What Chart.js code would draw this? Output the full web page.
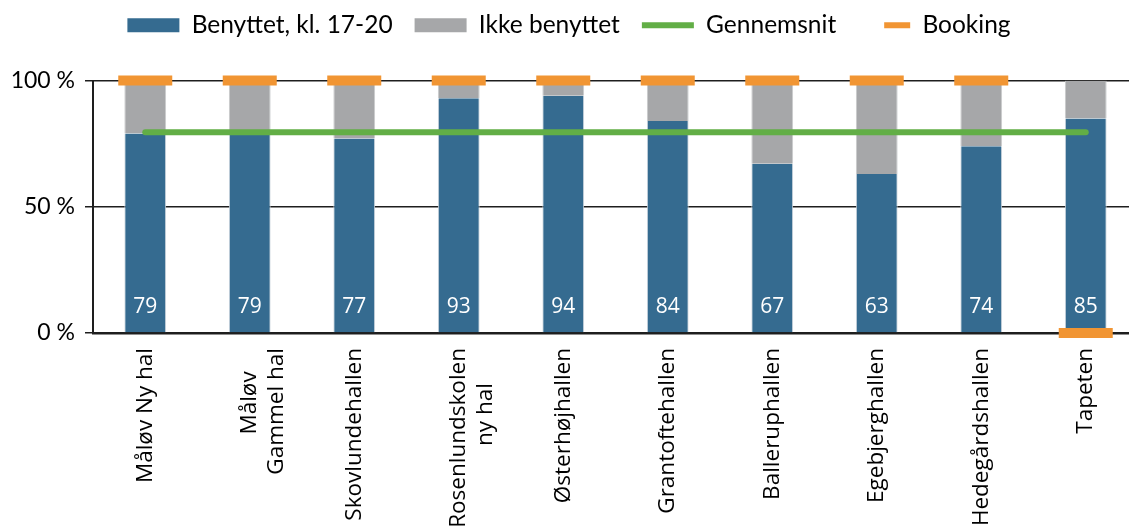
<!DOCTYPE html>
<html>
<head>
<meta charset="utf-8">
<script src="https://cdn.jsdelivr.net/npm/chart.js@4/dist/chart.umd.min.js"></script>
<style>
  html, body { margin: 0; padding: 0; background: #fff; overflow: hidden; }
  #chart { display: block; }
</style>
</head>
<body>
<canvas id="chart" width="1140" height="530"></canvas>
<script>
// Data
const halls = [
  'Måløv Ny hal', ['Måløv    ', 'Gammel hal'], 'Skovlundehallen', ['Rosenlundskolen', 'ny hal      '],
  'Østerhøjhallen', 'Grantoftehallen', 'Balleruphallen', 'Egebjerghallen', 'Hedegårdshallen', 'Tapeten'
];
const benyttet      = [79, 79, 77, 93, 94, 84, 67, 63, 74, 85];
const ikkeBenyttet  = [21, 21, 23, 7, 6, 16, 33, 37, 26, 15];
const gennemsnit    = [79.5, 79.5, 79.5, 79.5, 79.5, 79.5, 79.5, 79.5, 79.5, 79.5];
const booking       = [100, 100, 100, 100, 100, 100, 100, 100, 100, 0];
const yTicks        = [0, 50, 100];

const COLOR = {
  blue:   '#356b90',
  gray:   '#a6a7a9',
  green:  '#62ae46',
  orange: '#f19533',
  edge:   '#cdd6de',
  axis:   '#1e1e1e',
};

// værdier i bunden af søjlerne
const barValues = {
  id: 'barValues',
  afterDatasetsDraw(chart) {
    const meta = chart.getDatasetMeta(0);
    const ctx = chart.ctx;
    ctx.save();
    ctx.fillStyle = '#fff';
    ctx.font = '21px "Open Sans"';
    ctx.textAlign = 'center';
    ctx.textBaseline = 'middle';
    meta.data.forEach((bar, i) => {
      ctx.fillText(String(benyttet[i]), bar.x, bar.base - 25);
    });
    ctx.restore();
  }
};

new Chart(document.getElementById('chart').getContext('2d'), {
  type: 'bar',
  data: {
    labels: halls,
    datasets: [
      {
        label: 'Benyttet, kl. 17-20',
        data: benyttet,
        backgroundColor: COLOR.blue,
        borderColor: COLOR.edge,
        borderWidth: { left: 1, right: 1, top: 0, bottom: 0 },
        borderSkipped: false,
        stack: 'bars',
        order: 2,
        legendStyle: { pointStyle: 'rect', color: COLOR.blue, lineWidth: 0 },
      },
      {
        label: 'Ikke benyttet',
        data: ikkeBenyttet,
        backgroundColor: COLOR.gray,
        borderColor: '#c9cacc',
        borderWidth: { left: 1, right: 1, top: 0, bottom: 0 },
        borderSkipped: false,
        stack: 'bars',
        order: 3,
        legendStyle: { pointStyle: 'rect', color: COLOR.gray, lineWidth: 0 },
      },
      {
        type: 'line',
        label: 'Gennemsnit',
        data: gennemsnit,
        borderColor: COLOR.green,
        backgroundColor: COLOR.green,
        borderWidth: 6,
        borderCapStyle: 'round',
        pointRadius: 0,
        stack: 'avg',
        order: 1,
        legendStyle: { pointStyle: 'line', color: COLOR.green, lineWidth: 6 },
      },
      {
        type: 'line',
        label: 'Booking',
        data: booking,
        showLine: false,
        pointStyle: 'line',
        pointRadius: 27,
        pointBorderWidth: 10,
        pointBorderColor: COLOR.orange,
        pointBackgroundColor: COLOR.orange,
        borderColor: COLOR.orange,
        stack: 'booking',
        order: 0,
        clip: false,
        legendStyle: { pointStyle: 'dash', color: COLOR.orange, lineWidth: 6 },
      },
    ],
  },
  options: {
    responsive: false,
    animation: false,
    layout: { autoPadding: false, padding: { top: -9, right: 2, left: 0, bottom: 0 } },
    datasets: {
      bar: { categoryPercentage: 1, barPercentage: 0.4 },
    },
    plugins: {
      tooltip: { enabled: false },
      // tom titel bruges som afstand mellem forklaring og plot
      title: {
        display: true, text: '', weight: 500,
        font: { size: 23, lineHeight: 1 }, padding: 5,
      },
      legend: {
        position: 'top',
        labels: {
          usePointStyle: true,
          pointStyleWidth: 52,
          boxHeight: 14,
          padding: 22,
          color: '#000',
          font: { family: 'Lato', size: 24.5 },
          sort: (a, b) => a.datasetIndex - b.datasetIndex,
          generateLabels: chart => chart.data.datasets.map((ds, i) => ({
            text: ds.label,
            datasetIndex: i,
            fillStyle: ds.legendStyle.color,
            strokeStyle: ds.legendStyle.color,
            lineWidth: ds.legendStyle.lineWidth,
            pointStyle: ds.legendStyle.pointStyle,
            lineCap: 'butt',
            hidden: false,
            fontColor: '#000',
          })),
        },
      },
    },
    scales: {
      x: {
        stacked: true,
        afterFit: scale => { scale.height = 197; },
        grid: { display: false, drawTicks: false },
        border: { display: true, color: COLOR.axis, width: 2.5 },
        ticks: {
          color: '#000',
          padding: 15,
          minRotation: 90,
          maxRotation: 90,
          autoSkip: false,
          font: { family: 'Open Sans', size: 22.5, lineHeight: 1.2 },
        },
      },
      y: {
        stacked: true,
        min: 0,
        max: 100,
        afterFit: scale => { scale.width = 93; },
        afterBuildTicks: scale => { scale.ticks = yTicks.map(v => ({ value: v })); },
        grid: { color: COLOR.axis, lineWidth: 1.5, tickLength: 8 },
        border: { display: true, color: COLOR.axis, width: 2 },
        ticks: {
          color: '#000',
          padding: 10,
          font: { family: 'Lato', size: 23 },
          callback: v => v + ' %',
        },
      },
    },
  },
  plugins: [barValues],
});
</script>
</body>
</html>
